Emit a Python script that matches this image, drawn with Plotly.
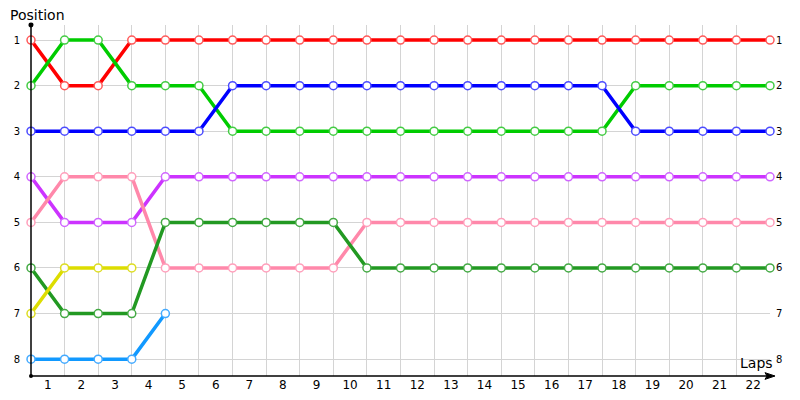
import plotly.graph_objects as go

laps = list(range(0, 23))
lap_labels = [str(i) for i in range(1, 23)]
positions = [1, 2, 3, 4, 5, 6, 7, 8]

red = [1, 2, 2, 1, 1, 1, 1, 1, 1, 1, 1, 1, 1, 1, 1, 1, 1, 1, 1, 1, 1, 1, 1]
green = [2, 1, 1, 2, 2, 2, 3, 3, 3, 3, 3, 3, 3, 3, 3, 3, 3, 3, 2, 2, 2, 2, 2]
blue = [3, 3, 3, 3, 3, 3, 2, 2, 2, 2, 2, 2, 2, 2, 2, 2, 2, 2, 3, 3, 3, 3, 3]
purple = [4, 5, 5, 5, 4, 4, 4, 4, 4, 4, 4, 4, 4, 4, 4, 4, 4, 4, 4, 4, 4, 4, 4]
pink = [5, 4, 4, 4, 6, 6, 6, 6, 6, 6, 5, 5, 5, 5, 5, 5, 5, 5, 5, 5, 5, 5, 5]
darkgreen = [6, 7, 7, 7, 5, 5, 5, 5, 5, 5, 6, 6, 6, 6, 6, 6, 6, 6, 6, 6, 6, 6, 6]
yellow = [7, 6, 6, 6]
lightblue = [8, 8, 8, 8, 7]

series = [
    (red, "#ff0000", "#ff5a5a"),
    (green, "#00cc00", "#44cc44"),
    (blue, "#0000ff", "#4c4cff"),
    (purple, "#cc33ff", "#d066ff"),
    (pink, "#ff88aa", "#ff9fbb"),
    (darkgreen, "#229922", "#44aa44"),
    (yellow, "#dddd00", "#dddd22"),
    (lightblue, "#1199ff", "#44aaff"),
]

fig = go.Figure()
for vals, lc, mc in series:
    fig.add_trace(go.Scatter(
        x=laps[:len(vals)], y=vals, mode="lines+markers",
        line=dict(color=lc, width=3.5),
        marker=dict(size=8, color="white", line=dict(color=mc, width=1.5)),
        showlegend=False, hoverinfo="skip", cliponaxis=False,
    ))

# invisible trace for right axis
fig.add_trace(go.Scatter(x=[0], y=[1], yaxis="y2", mode="markers",
                         marker=dict(opacity=0), showlegend=False, hoverinfo="skip"))

yr = [8.37, 0.67]
fig.update_layout(
    width=800, height=400,
    margin=dict(l=23, r=38, t=17, b=32),
    plot_bgcolor="white", paper_bgcolor="white",
    font=dict(family="DejaVu Sans", color="black"),
    xaxis=dict(
        range=[0, 22.0], showgrid=False, zeroline=False, showline=False,
        automargin=False,
        tickvals=[i + 0.5 for i in range(22)], ticktext=lap_labels,
        tickfont=dict(size=12), ticks="",
        minor=dict(tickvals=laps, showgrid=True, gridcolor="#d4d4d4", gridwidth=1, ticks=""),
    ),
    yaxis=dict(
        range=yr, tickvals=positions, ticktext=[str(p) for p in positions],
        showgrid=True, gridcolor="#d4d4d4", zeroline=False, showline=False,
        automargin=False,
        tickfont=dict(size=10), ticks="", ticklabelstandoff=10,
    ),
    yaxis2=dict(
        range=yr, overlaying="y", side="right", anchor="x",
        tickvals=positions, ticktext=[str(p) for p in positions],
        showgrid=False, zeroline=False, showline=False,
        automargin=False,
        tickfont=dict(size=10), ticks="", ticklabelstandoff=5,
    ),
    shapes=[
        dict(type="line", xref="paper", yref="paper", x0=0, x1=0, y0=0, y1=1,
             line=dict(color="black", width=1.5), layer="above"),
        dict(type="line", xref="paper", yref="paper", x0=0, x1=1.0, y0=0, y1=0,
             line=dict(color="black", width=1.5), layer="above"),
        dict(type="path", xref="paper", yref="paper",
             path="M 1.0068,0 L 0.9932,0.0095 L 0.9960,0 L 0.9932,-0.0095 Z",
             fillcolor="black", line=dict(color="black", width=1), layer="above"),
        dict(type="circle", xref="paper", yref="paper",
             x0=-0.0034, x1=0.0034, y0=1 - 0.0071, y1=1 + 0.0071,
             fillcolor="black", line=dict(color="black", width=0), layer="above"),
        dict(type="circle", xref="paper", yref="paper",
             x0=-0.0027, x1=0.0027, y0=-0.0057, y1=0.0057,
             fillcolor="black", line=dict(color="black", width=0), layer="above"),
    ],
    annotations=[
        dict(text="Position", xref="paper", yref="paper", x=-0.0305, y=1.028,
             xanchor="left", yanchor="middle", showarrow=False,
             font=dict(size=14, family="DejaVu Sans")),
        dict(text="Laps", xref="paper", yref="paper", x=1.0068, y=0.036,
             xanchor="right", yanchor="middle", showarrow=False,
             font=dict(size=14, family="DejaVu Sans")),
    ],
)

fig.write_html("out.html")
